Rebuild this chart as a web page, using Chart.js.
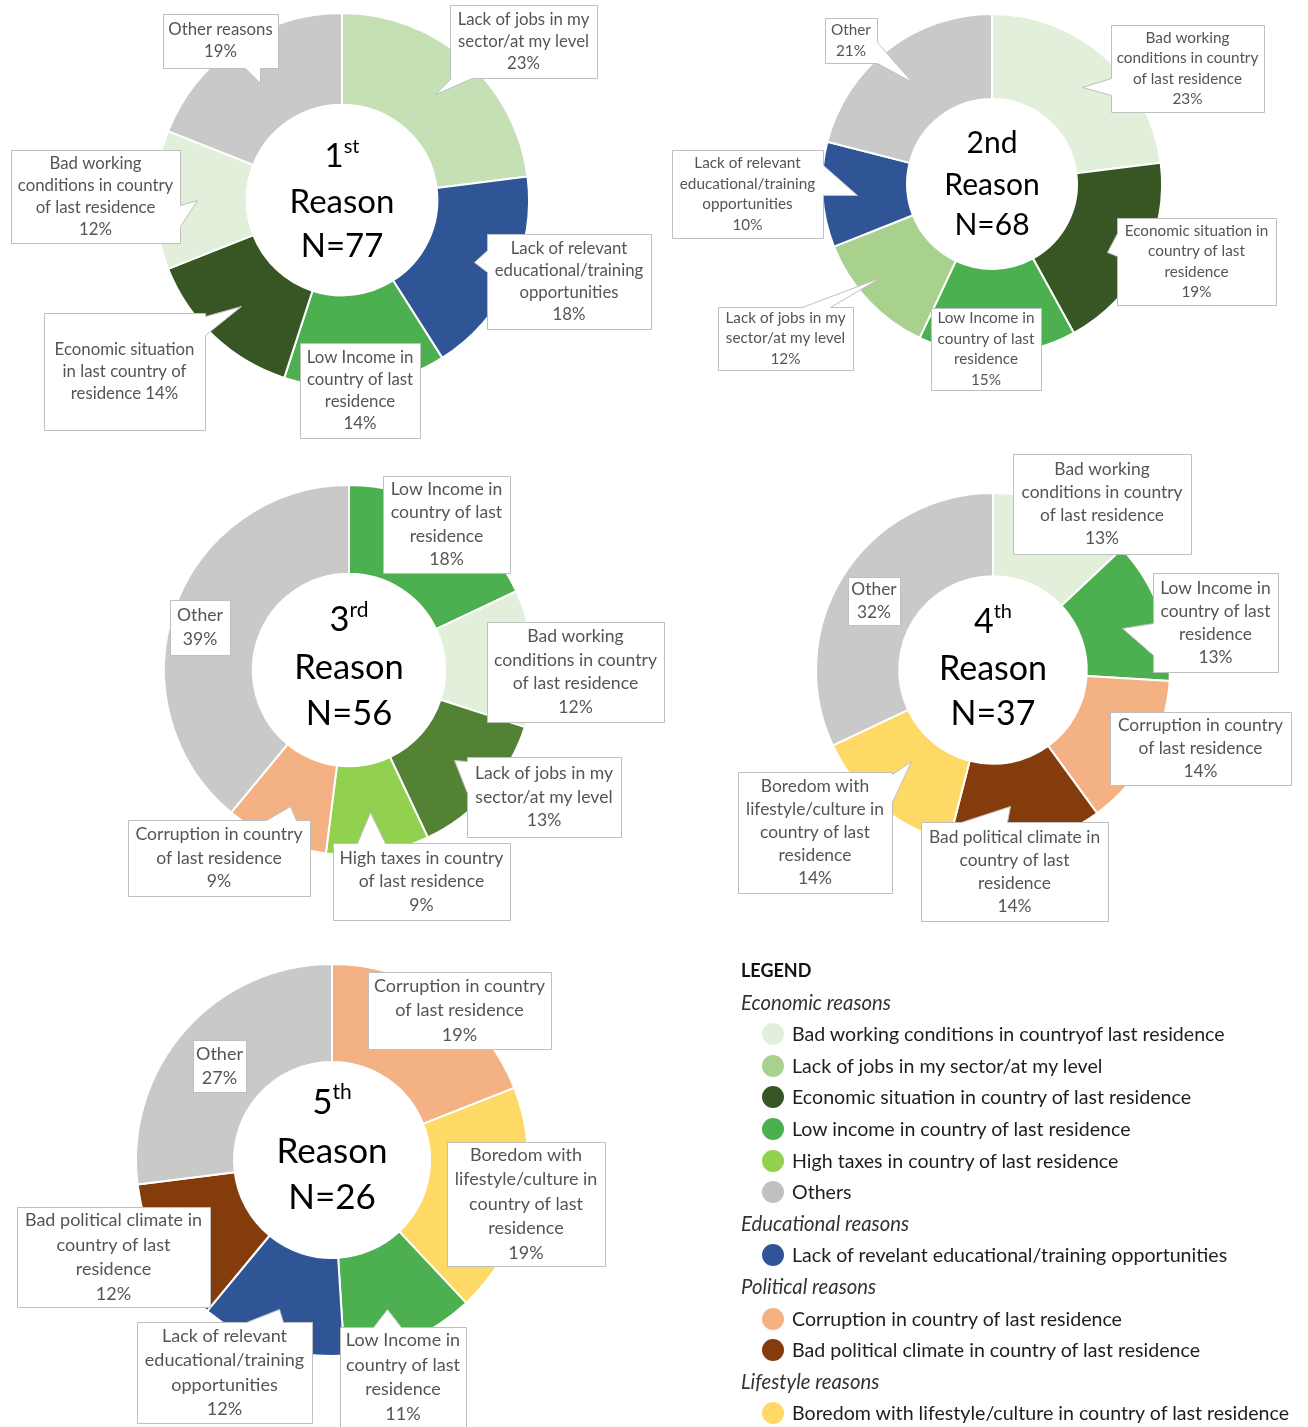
<!DOCTYPE html>
<html>
<head>
<meta charset="utf-8">
<title>Reasons for leaving the country of last residence</title>
<script src="https://cdn.jsdelivr.net/npm/chart.js@4.4.1/dist/chart.umd.min.js"></script>
<style>
  html, body { margin: 0; padding: 0; background: #fff; }
  #page { position: relative; width: 1308px; height: 1427px; overflow: hidden; }
  #page canvas { position: absolute; left: 0; top: 0; }
  #legend { position: absolute; left: 741px; top: 955px; font-family: Lato, sans-serif; color: #1e1e1e; }
  #legend .row { height: 31.6px; line-height: 31.6px; white-space: nowrap; }
  #legend .head { font-weight: bold; font-size: 18px; color: #111; }
  #legend .group { font-style: italic; font-size: 20.3px; color: #333; }
  #legend .item { padding-left: 21px; font-size: 19.6px; }
  #legend .dot { display: inline-block; width: 22px; height: 22px; border-radius: 50%;
                 vertical-align: middle; margin-right: 8px; position: relative; top: -2px; }
</style>
</head>
<body>
<div id="page">
  <canvas id="c1" width="1308" height="1427"></canvas>
  <canvas id="c2" width="1308" height="1427"></canvas>
  <canvas id="c3" width="1308" height="1427"></canvas>
  <canvas id="c4" width="1308" height="1427"></canvas>
  <canvas id="c5" width="1308" height="1427"></canvas>
  <div id="legend"></div>
</div>
<script>
const W = 1308, H = 1427;

// survey answers, one ring per rank of reason
const rankNumbers = ['1', '2', '3', '4', '5'];
const rankSuffixes = ['st', 'nd', 'rd', 'th', 'th'];
const sampleSizes = [77, 68, 56, 37, 26];

const reasons1 = ['Lack of jobs in my sector/at my level', 'Lack of relevant educational/training opportunities',
  'Low income in country of last residence', 'Economic situation in country of last residence',
  'Bad working conditions in country of last residence', 'Other reasons'];
const shares1 = [23, 18, 14, 14, 12, 19];

const reasons2 = ['Bad working conditions in country of last residence', 'Economic situation in country of last residence',
  'Low income in country of last residence', 'Lack of jobs in my sector/at my level',
  'Lack of relevant educational/training opportunities', 'Other'];
const shares2 = [23, 19, 15, 12, 10, 21];

const reasons3 = ['Low income in country of last residence', 'Bad working conditions in country of last residence',
  'Lack of jobs in my sector/at my level', 'High taxes in country of last residence',
  'Corruption in country of last residence', 'Other'];
const shares3 = [18, 12, 13, 9, 9, 39];

const reasons4 = ['Bad working conditions in country of last residence', 'Low income in country of last residence',
  'Corruption in country of last residence', 'Bad political climate in country of last residence',
  'Boredom with lifestyle/culture in country of last residence', 'Other'];
const shares4 = [13, 13, 14, 14, 14, 32];

const reasons5 = ['Corruption in country of last residence', 'Boredom with lifestyle/culture in country of last residence',
  'Low income in country of last residence', 'Lack of relevant educational/training opportunities',
  'Bad political climate in country of last residence', 'Other'];
const shares5 = [19, 19, 11, 12, 12, 27];

// legend groups
const legendGroups = ['Economic reasons', 'Educational reasons', 'Political reasons', 'Lifestyle reasons'];
const legendItems = [
  ['Bad working conditions in countryof last residence', 'Lack of jobs in my sector/at my level',
   'Economic situation in country of last residence', 'Low income in country of last residence',
   'High taxes in country of last residence', 'Others'],
  ['Lack of revelant educational/training opportunities'],
  ['Corruption in country of last residence', 'Bad political climate in country of last residence'],
  ['Boredom with lifestyle/culture in country of last residence']
];

const C = {
  badWork: '#e2efda', jobs: '#a9d18e', jobsPale: '#c5e0b4', jobsDark: '#548235',
  economic: '#375623', lowIncome: '#4caf50', taxes: '#92d050', other: '#c9c9c9',
  training: '#2f5597', corruption: '#f4b183', political: '#843c0c', boredom: '#ffd966'
};
const legendColors = [
  [C.badWork, C.jobs, C.economic, C.lowIncome, C.taxes, '#c0c0c0'],
  [C.training],
  [C.corruption, C.political],
  [C.boredom]
];

// ring placement, text sizes and label boxes (page pixels)
const layouts = [
  { cx: 342, cy: 200, r: 188, cutout: '51%', fs: 33, dy: 1, tfs: 16.8, lh: 22,
    colors: [C.jobsPale, C.training, C.lowIncome, C.economic, C.badWork, C.other],
    callouts: [
      { box: [450, 5, 147, 73], lines: ['Lack of jobs in my', 'sector/at my level', '{v}%'],
        ptr: { side: 'bottom', a: 1, b: 22, tip: [435, 94] } },
      { box: [487, 234, 164, 95], lines: ['Lack of relevant', 'educational/training', 'opportunities', '{v}%'],
        ptr: { side: 'left', a: 16, b: 38, tip: [474, 262] } },
      { box: [300, 343, 120, 95], lines: ['Low Income in', 'country of last', 'residence', '{v}%'] },
      { box: [44, 313, 161, 117], lines: ['Economic situation', 'in last country of', 'residence {v}%'],
        ptr: { side: 'right', a: 3, b: 22, tip: [241, 306] } },
      { box: [11, 150, 169, 93], lines: ['Bad working', 'conditions in country', 'of last residence', '{v}%'],
        ptr: { side: 'right', a: 55, b: 76, tip: [197, 200] } },
      { box: [163, 14, 115, 54], lines: ['Other reasons', '{v}%'],
        ptr: { side: 'bottom', a: 82, b: 97, tip: [260, 83] } }
    ] },
  { cx: 992, cy: 184, r: 171, cutout: '50%', fs: 30, dy: 0, tfs: 15.3, lh: 20.5,
    colors: [C.badWork, C.economic, C.lowIncome, C.jobs, C.training, C.other],
    callouts: [
      { box: [1111, 25, 153, 87], lines: ['Bad working', 'conditions in country', 'of last residence', '{v}%'],
        ptr: { side: 'left', a: 53, b: 70, tip: [1082, 87] } },
      { box: [1117, 218, 159, 87], lines: ['Economic situation in', 'country of last', 'residence', '{v}%'],
        ptr: { side: 'left', a: 15, b: 38, tip: [1107, 252] } },
      { box: [931, 308, 110, 82], lines: ['Low Income in', 'country of last', 'residence', '{v}%'] },
      { box: [718, 307, 135, 63], lines: ['Lack of jobs in my', 'sector/at my level', '{v}%'],
        ptr: { side: 'top', a: 84, b: 112, tip: [881, 277] } },
      { box: [672, 150, 151, 88], lines: ['Lack of relevant', 'educational/training', 'opportunities', '{v}%'],
        ptr: { side: 'right', a: 15, b: 45, tip: [857, 195] } },
      { box: [825, 18, 52, 45], lines: ['Other', '{v}%'],
        ptr: { side: 'right', a: 24, b: 45, tip: [912, 82] } }
    ] },
  { cx: 349, cy: 670, r: 186, cutout: '52%', fs: 34.5, dy: -3, tfs: 17.6, lh: 23.5,
    colors: [C.lowIncome, C.badWork, C.jobsDark, C.taxes, C.corruption, C.other],
    callouts: [
      { box: [383, 476, 127, 97], lines: ['Low Income in', 'country of last', 'residence', '{v}%'] },
      { box: [487, 622, 177, 100], lines: ['Bad working', 'conditions in country', 'of last residence', '{v}%'] },
      { box: [467, 757, 154, 80], lines: ['Lack of jobs in my', 'sector/at my level', '{v}%'],
        ptr: { side: 'left', a: 4, b: 36, tip: [454, 760] } },
      { box: [333, 843, 177, 77], lines: ['High taxes in country', 'of last residence', '{v}%'],
        ptr: { side: 'top', a: 24, b: 52, tip: [370, 812] } },
      { box: [128, 820, 182, 76], lines: ['Corruption in country', 'of last residence', '{v}%'],
        ptr: { side: 'top', a: 138, b: 168, tip: [290, 806] } },
      { box: [170, 600, 60, 55], lines: ['Other', '{v}%'] }
    ] },
  { cx: 993, cy: 670, r: 178, cutout: '53%', fs: 34, dy: -2, tfs: 17.4, lh: 23,
    colors: [C.badWork, C.lowIncome, C.corruption, C.political, C.boredom, C.other],
    callouts: [
      { box: [1013, 454, 178, 100], lines: ['Bad working', 'conditions in country', 'of last residence', '{v}%'] },
      { box: [1153, 573, 125, 99], lines: ['Low Income in', 'country of last', 'residence', '{v}%'],
        ptr: { side: 'left', a: 50, b: 82, tip: [1122, 628] } },
      { box: [1110, 712, 181, 73], lines: ['Corruption in country', 'of last residence', '{v}%'] },
      { box: [921, 822, 187, 99], lines: ['Bad political climate in', 'country of last', 'residence', '{v}%'],
        ptr: { side: 'top', a: 40, b: 86, tip: [1010, 806] } },
      { box: [738, 772, 154, 121], lines: ['Boredom with', 'lifestyle/culture in', 'country of last', 'residence', '{v}%'],
        ptr: { side: 'right', a: 2, b: 30, tip: [911, 761] } },
      { box: [848, 577, 52, 48], lines: ['Other', '{v}%'] }
    ] },
  { cx: 332, cy: 1160, r: 197, cutout: '50%', fs: 35, dy: -10, tfs: 18, lh: 24.5,
    colors: [C.corruption, C.boredom, C.lowIncome, C.training, C.political, C.other],
    callouts: [
      { box: [368, 972, 183, 77], lines: ['Corruption in country', 'of last residence', '{v}%'] },
      { box: [447, 1142, 158, 124], lines: ['Boredom with', 'lifestyle/culture in', 'country of last', 'residence', '{v}%'] },
      { box: [340, 1327, 126, 100], lines: ['Low Income in', 'country of last', 'residence', '{v}%'],
        ptr: { side: 'top', a: 33, b: 61, tip: [387, 1309] } },
      { box: [137, 1322, 175, 101], lines: ['Lack of relevant', 'educational/training', 'opportunities', '{v}%'],
        ptr: { side: 'top', a: 109, b: 146, tip: [279, 1309] } },
      { box: [17, 1207, 193, 100], lines: ['Bad political climate in', 'country of last', 'residence', '{v}%'] },
      { box: [193, 1040, 53, 52], lines: ['Other', '{v}%'] }
    ] }
];

const ringData = [
  [reasons1, shares1], [reasons2, shares2], [reasons3, shares3], [reasons4, shares4], [reasons5, shares5]
];

function calloutPath(ctx, c) {
  const [x, y, w, h] = c.box;
  const p = c.ptr;
  const pts = [[x, y]];
  if (p && p.side === 'top') pts.push([x + p.a, y], p.tip, [x + p.b, y]);
  pts.push([x + w, y]);
  if (p && p.side === 'right') pts.push([x + w, y + p.a], p.tip, [x + w, y + p.b]);
  pts.push([x + w, y + h]);
  if (p && p.side === 'bottom') pts.push([x + p.b, y + h], p.tip, [x + p.a, y + h]);
  pts.push([x, y + h]);
  if (p && p.side === 'left') pts.push([x, y + p.b], p.tip, [x, y + p.a]);
  ctx.beginPath();
  pts.forEach(([px, py], k) => (k ? ctx.lineTo(px + 0.5, py + 0.5) : ctx.moveTo(px + 0.5, py + 0.5)));
  ctx.closePath();
}

// white label boxes with a pointer, written over the ring
const calloutPlugin = {
  id: 'callouts',
  afterDatasetsDraw(chart, args, opts) {
    const ctx = chart.ctx;
    const values = chart.data.datasets[0].data;
    ctx.save();
    opts.items.forEach((c, i) => {
      calloutPath(ctx, c);
      ctx.fillStyle = '#fff';
      ctx.fill();
      ctx.strokeStyle = '#bfbfbf';
      ctx.lineWidth = 1;
      ctx.stroke();
      const [x, y, w, h] = c.box;
      const lines = c.lines.map(s => s.replace('{v}', values[i]));
      ctx.font = opts.size + 'px Lato';
      ctx.fillStyle = '#555555';
      ctx.textAlign = 'center';
      ctx.textBaseline = 'middle';
      const y0 = y + h / 2 - (lines.length - 1) * opts.lineHeight / 2;
      lines.forEach((s, k) => ctx.fillText(s, x + w / 2, y0 + k * opts.lineHeight));
    });
    ctx.restore();
  }
};

// "1st / Reason / N=77" in the hole
const centerPlugin = {
  id: 'centerLabel',
  afterDraw(chart, args, opts) {
    const ctx = chart.ctx;
    const arc = chart.getDatasetMeta(0).data[0];
    const fs = opts.size;
    const b2 = arc.y + opts.dy + 0.36 * fs;
    const b1 = b2 - 1.4 * fs, b3 = b2 + 1.33 * fs;
    ctx.save();
    ctx.fillStyle = '#000';
    ctx.textBaseline = 'alphabetic';
    const big = fs + 'px Lato', small = Math.round(fs * 0.6) + 'px Lato';
    ctx.font = big;
    const wNum = ctx.measureText(opts.num).width;
    ctx.font = opts.sup ? small : big;
    const wSuf = ctx.measureText(opts.suffix).width;
    const left = arc.x - (wNum + wSuf) / 2;
    ctx.textAlign = 'left';
    ctx.font = big;
    ctx.fillText(opts.num, left, b1);
    ctx.font = opts.sup ? small : big;
    ctx.fillText(opts.suffix, left + wNum, opts.sup ? b1 - 0.42 * fs : b1);
    ctx.font = big;
    ctx.textAlign = 'center';
    ctx.fillText('Reason', arc.x, b2);
    ctx.fillText('N=' + opts.n, arc.x, b3);
    ctx.restore();
  }
};

layouts.forEach((L, i) => {
  const [labels, values] = ringData[i];
  new Chart(document.getElementById('c' + (i + 1)), {
    type: 'doughnut',
    data: {
      labels: labels,
      datasets: [{
        data: values,
        backgroundColor: L.colors,
        borderColor: '#ffffff',
        borderWidth: 2
      }]
    },
    options: {
      responsive: false,
      animation: false,
      events: [],
      cutout: L.cutout,
      layout: {
        padding: { left: L.cx - L.r, top: L.cy - L.r, right: W - L.cx - L.r, bottom: H - L.cy - L.r }
      },
      plugins: {
        legend: { display: false },
        tooltip: { enabled: false },
        callouts: { items: L.callouts, size: L.tfs, lineHeight: L.lh },
        centerLabel: { num: rankNumbers[i], suffix: rankSuffixes[i], sup: i !== 1, n: sampleSizes[i], size: L.fs, dy: L.dy }
      }
    },
    plugins: [calloutPlugin, centerPlugin]
  });
});

// grouped legend
const legend = document.getElementById('legend');
let html = '<div class="row head">LEGEND</div>';
legendGroups.forEach((g, gi) => {
  html += '<div class="row group">' + g + '</div>';
  legendItems[gi].forEach((t, k) => {
    html += '<div class="row item"><span class="dot" style="background:' + legendColors[gi][k] + '"></span>' + t + '</div>';
  });
});
legend.innerHTML = html;
</script>
</body>
</html>
